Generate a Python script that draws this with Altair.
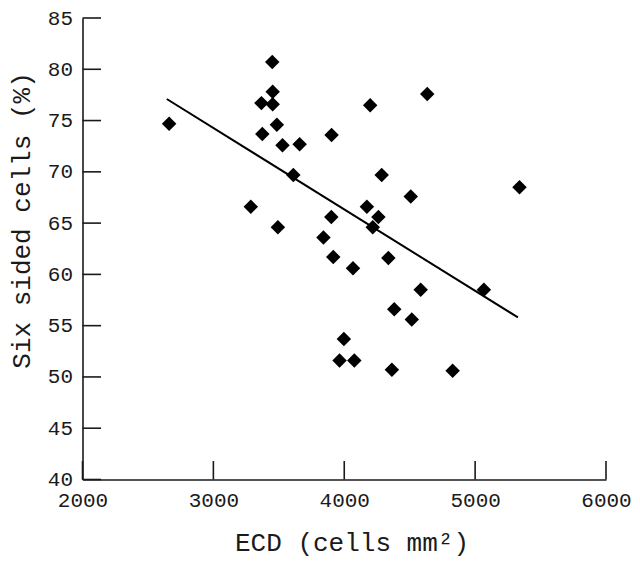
import altair as alt
import pandas as pd

# Scatter data
ecd = [2662, 3450, 3453, 3367, 3453, 4198, 3485, 3374, 3903, 3528, 3659, 3611,
       4286, 4508, 3286, 4173, 3901, 4261, 3493, 4218, 3841, 3916, 4337, 4067,
       4584, 5067, 4382, 4516, 3997, 3964, 4077, 4364, 4828, 4634, 5339]
six_sided = [74.7, 80.7, 77.8, 76.7, 76.6, 76.5, 74.6, 73.7, 73.6, 72.6, 72.7, 69.7,
             69.7, 67.6, 66.6, 66.6, 65.6, 65.6, 64.6, 64.6, 63.6, 61.7, 61.6, 60.6,
             58.5, 58.5, 56.6, 55.6, 53.7, 51.6, 51.6, 50.7, 50.6, 77.6, 68.5]

# Regression line endpoints
fit_x = [2644, 5327]
fit_y = [77.1, 55.8]

x_ticks = [2000, 3000, 4000, 5000, 6000]
y_ticks = [40, 45, 50, 55, 60, 65, 70, 75, 80, 85]

W = 523.5
H = 461.5
FONT = "Liberation Mono"

pts = pd.DataFrame({"ecd": ecd, "six": six_sided})
fit = pd.DataFrame({"ecd": fit_x, "six": fit_y})
xt = pd.DataFrame({"v": x_ticks})
yt = pd.DataFrame({"v": y_ticks})

xscale = alt.Scale(domain=[2000, 6000], nice=False, zero=False)
yscale = alt.Scale(domain=[40, 85], nice=False, zero=False)

xaxis = alt.Axis(values=x_ticks, format="d", ticks=False, grid=False, domainColor="#1a1a1a",
                 domainWidth=1.6, labelFont=FONT, labelFontSize=21, labelColor="#1a1a1a",
                 labelPadding=10, title="ECD (cells mm²)", titleFont=FONT,
                 titleFontSize=26, titleFontWeight="normal", titleColor="#1a1a1a",
                 titleX=269, titleY=71, titleAlign="center", titleBaseline="alphabetic",
                 labelFlush=False)
yaxis = alt.Axis(values=y_ticks, format="d", ticks=False, grid=False, domainColor="#1a1a1a",
                 domainWidth=1.6, labelFont=FONT, labelFontSize=21, labelColor="#1a1a1a",
                 labelPadding=10, title="Six sided cells (%)", titleFont=FONT,
                 titleFontSize=26, titleFontWeight="normal", titleColor="#1a1a1a",
                 titleX=-61, titleY=202, titleAngle=270, titleAlign="center",
                 titleBaseline="middle", labelFlush=False)

points = alt.Chart(pts).mark_point(shape="diamond", filled=True, size=210,
                                   color="black", opacity=1).encode(
    x=alt.X("ecd:Q", scale=xscale, axis=xaxis),
    y=alt.Y("six:Q", scale=yscale, axis=yaxis),
)

line = alt.Chart(fit).mark_line(color="black", strokeWidth=2).encode(
    x=alt.X("ecd:Q", scale=xscale),
    y=alt.Y("six:Q", scale=yscale),
)

ytick_marks = alt.Chart(yt).mark_rule(color="#1a1a1a", strokeWidth=1.6).encode(
    y=alt.Y("v:Q", scale=yscale),
    x=alt.value(0),
    x2=alt.value(18.5),
)

xtick_marks = alt.Chart(xt).mark_rule(color="#1a1a1a", strokeWidth=1.6).encode(
    x=alt.X("v:Q", scale=xscale),
    y=alt.value(H),
    y2=alt.value(H - 18.5),
)

chart = alt.layer(ytick_marks, xtick_marks, line, points).properties(
    width=W, height=H,
    autosize=alt.AutoSizeParams(type="none"),
    padding={"left": 74.5, "top": 10, "right": 26, "bottom": 79.5},
    background="white",
).configure_view(stroke=None)

chart.save("out.html", embed_options={"renderer": "svg", "actions": False})
